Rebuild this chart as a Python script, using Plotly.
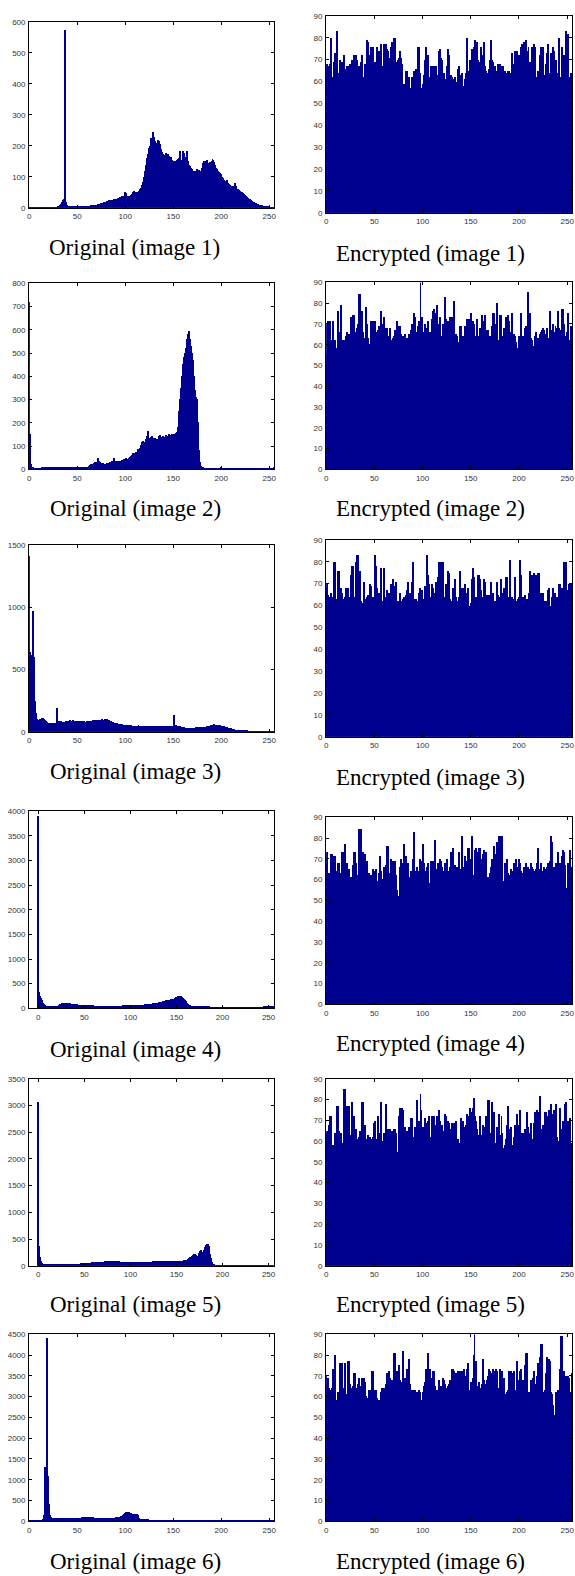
import plotly.graph_objects as go

W, H = 575, 1576
bins = list(range(256))

orig1 = [
    2,2,2,2,2,2,2,2,2,2,2,2,2,2,2,2,
    2,2,2,2,2,2,2,2,2,2,2,2,2,3,4,6,
    8,12,18,25,30,575,45,18,10,6,5,5,4,4,5,6,
    7,5,4,3,4,3,4,5,5,4,5,6,6,6,7,7,
    8,8,9,9,10,10,11,11,12,12,14,15,15,16,18,20,
    18,22,20,24,25,23,26,27,28,30,28,25,30,33,32,35,
    36,38,40,37,52,48,40,38,36,40,42,45,50,55,52,48,
    50,52,55,58,60,65,75,85,100,120,140,160,175,195,200,225,
    210,245,230,215,200,210,220,215,205,190,180,175,170,172,170,178,
    172,175,168,160,165,155,150,148,152,150,155,158,160,185,150,155,
    185,178,165,160,185,170,150,140,135,130,125,120,118,115,120,125,
    118,122,115,120,130,145,150,140,150,155,145,140,148,135,150,158,
    155,148,140,130,125,120,115,112,110,100,95,90,88,85,90,80,
    78,75,72,70,72,68,80,72,65,60,62,58,55,52,50,48,
    45,42,40,35,32,30,28,25,22,20,18,16,15,14,12,10,
    10,9,8,8,7,6,6,5,5,4,4,3,3,3,2,2,
]
orig2 = [
    720,150,20,8,5,4,3,3,3,3,3,3,3,3,5,5,
    5,5,5,5,5,5,5,5,6,6,6,6,6,6,7,5,
    6,7,8,8,7,6,5,5,6,6,7,7,7,8,8,8,
    8,8,9,9,10,8,9,10,9,8,9,10,10,10,12,15,
    18,20,18,22,25,28,25,30,45,35,28,26,24,25,22,20,
    22,24,25,26,30,28,32,30,45,35,32,34,36,35,32,30,
    36,40,38,42,42,45,40,44,46,52,55,60,68,65,70,72,
    75,85,80,78,88,105,115,120,118,115,130,140,165,135,130,138,
    140,132,128,135,130,125,128,140,145,138,130,142,140,135,138,145,
    140,138,150,148,145,150,148,152,150,155,160,180,250,300,350,400,
    450,480,500,520,560,580,590,595,560,530,500,470,400,340,310,300,
    200,80,30,12,6,5,4,4,3,3,3,3,3,3,3,3,
    3,3,3,3,3,3,3,3,5,3,3,3,3,4,3,3,
    3,3,3,3,3,3,3,3,3,3,3,3,2,2,2,2,
    2,2,2,2,2,2,2,2,2,2,2,2,2,2,2,2,
    2,2,2,2,2,2,2,2,2,2,2,2,2,2,2,10,
]
orig3 = [
    1410,640,620,620,970,600,250,150,100,90,95,100,105,110,115,110,
    100,95,85,80,75,75,72,70,70,68,72,75,70,190,85,90,
    88,85,80,78,80,82,85,85,88,85,90,92,88,90,95,90,
    88,86,85,88,90,86,84,82,85,84,82,80,85,84,82,85,
    86,88,90,92,95,96,98,95,92,94,96,98,100,98,95,100,
    105,102,95,92,90,85,80,78,75,72,70,68,70,65,66,64,
    62,60,58,56,55,54,52,53,52,50,52,50,48,50,49,48,
    50,48,52,50,48,49,47,48,50,46,45,46,47,45,46,48,
    46,45,44,46,45,44,43,45,44,46,45,44,46,45,44,42,
    44,46,45,47,48,46,45,135,55,52,50,48,45,44,42,40,
    38,36,35,34,32,30,30,32,31,30,32,33,34,35,36,38,
    36,38,40,38,37,36,38,40,42,44,46,48,50,52,55,56,
    58,60,58,56,55,56,54,52,50,48,46,44,42,40,38,35,
    32,30,28,25,22,20,18,16,15,14,13,12,12,11,10,10,
    9,9,8,8,7,7,6,6,6,5,5,5,5,4,4,4,
    4,4,4,3,3,3,3,3,3,3,3,3,3,3,3,3,
]
orig4 = [
    3900,330,250,200,150,100,80,60,45,35,30,28,25,25,24,25,
    26,28,30,35,40,45,55,65,75,85,90,95,100,100,98,100,
    100,98,95,92,88,85,80,78,75,72,70,68,65,62,60,58,
    56,55,54,55,53,52,50,52,51,50,48,50,49,48,47,48,
    46,47,45,46,48,47,45,46,45,44,46,45,44,45,46,45,
    44,45,46,45,44,46,47,48,46,45,47,48,49,50,50,52,
    50,51,52,53,54,55,56,57,58,58,59,60,60,61,61,62,
    62,64,66,68,70,72,74,76,78,80,82,85,88,90,92,95,
    98,102,106,110,115,120,125,130,135,140,145,150,155,160,165,170,
    175,180,185,190,195,205,215,225,235,242,245,238,225,205,180,155,
    130,110,90,75,62,52,45,40,36,33,31,30,29,28,27,26,
    23,22,22,21,20,20,20,19,18,18,17,17,16,16,15,15,
    15,15,14,14,14,13,13,13,12,12,12,12,12,12,11,11,
    11,11,11,10,10,10,10,10,10,10,10,10,11,11,11,11,
    11,11,12,12,12,12,13,13,13,13,14,14,14,15,15,15,
    15,16,16,17,17,18,18,19,20,20,22,24,26,28,30,32,
]
orig5 = [
    3070,370,170,100,60,40,30,25,22,20,20,22,20,22,20,22,
    24,22,25,24,26,25,28,25,28,30,28,30,30,32,30,32,
    30,32,34,32,35,45,38,36,38,40,42,40,44,45,46,48,
    48,50,52,50,52,55,58,60,62,64,65,66,68,70,70,72,
    74,75,76,78,78,80,80,82,82,84,85,86,88,90,92,92,
    94,95,94,92,90,88,86,85,84,82,80,80,78,78,76,76,
    75,74,74,72,72,70,70,72,70,72,72,74,74,75,75,76,
    76,78,78,76,78,80,80,78,80,80,82,80,82,84,82,84,
    84,85,84,86,86,85,86,88,88,86,88,90,88,90,90,92,
    92,90,92,94,95,92,94,95,96,95,96,95,98,100,102,105,
    110,115,120,130,145,160,175,190,200,215,220,200,185,180,200,250,
    280,300,260,250,300,350,400,420,410,380,300,230,150,80,40,20,
    10,6,4,4,3,3,3,3,3,3,3,3,3,3,3,3,
    3,3,3,3,3,3,3,3,3,3,3,3,3,3,3,3,
    3,3,3,3,3,3,3,3,3,3,3,3,3,3,3,3,
    3,3,3,3,3,3,3,3,3,3,3,3,3,3,3,3,
]
orig6 = [
    15,15,15,15,15,15,15,15,15,15,15,15,15,18,20,30,
    150,1300,1300,4400,1070,400,150,100,80,75,72,70,70,70,72,70,
    70,70,72,70,70,72,70,72,70,70,72,72,70,72,74,72,
    74,75,74,76,78,80,82,85,90,95,100,98,95,90,92,95,
    92,90,88,85,82,80,78,75,72,70,70,68,66,65,64,62,
    60,62,60,62,64,66,68,70,72,75,80,85,90,95,100,105,
    110,130,150,170,190,205,215,220,210,195,180,172,168,165,162,160,
    158,150,120,80,50,42,40,40,38,38,36,35,30,20,15,12,
    10,10,10,10,10,10,10,10,10,10,10,10,10,10,10,10,
    10,10,10,10,10,10,10,10,10,10,10,10,10,10,10,10,
    10,10,10,10,10,10,10,10,10,10,10,10,10,10,10,10,
    10,10,10,10,10,10,10,10,10,10,10,10,10,10,10,10,
    10,10,10,10,10,10,10,10,10,10,10,10,10,10,10,10,
    10,10,10,10,10,10,10,10,10,10,10,10,10,10,10,10,
    10,10,10,10,10,10,10,10,10,10,10,10,10,10,10,10,
    10,10,10,10,10,10,10,10,10,10,10,10,10,10,10,10,
]

enc1 = [
    66,68,56,67,68,80,62,56,69,73,64,83,54,64,66,70,
    68,69,64,72,58,66,67,67,67,68,57,70,68,72,64,72,
    70,63,67,55,69,72,62,61,68,65,69,79,78,66,72,76,
    64,76,68,69,60,76,74,66,74,77,61,67,77,66,77,75,
    74,71,65,76,78,70,71,80,80,68,69,70,71,74,71,68,
    56,59,55,65,65,52,62,56,57,62,61,65,63,66,64,76,
    76,63,64,47,57,59,63,70,76,63,72,62,60,67,67,67,
    67,67,67,63,62,74,75,71,70,62,64,60,61,67,63,75,
    72,63,63,62,60,61,62,60,54,66,67,62,63,64,49,58,
    61,64,80,65,64,70,68,75,64,76,79,79,66,78,70,69,
    65,76,72,69,78,67,65,60,64,66,70,79,70,69,66,67,
    60,65,68,68,68,66,66,67,67,60,65,57,64,65,65,58,
    64,73,68,64,74,62,74,68,72,70,76,77,71,78,76,79,
    74,67,76,62,69,63,76,73,77,76,62,56,65,63,72,76,
    66,76,63,61,68,73,77,62,64,73,70,76,74,64,61,70,
    64,60,80,59,62,76,65,72,65,83,66,82,62,60,64,59,
]
enc2 = [
    70,55,71,58,71,51,62,71,62,62,56,58,76,56,66,62,
    79,62,61,62,56,64,66,64,65,60,73,73,74,74,66,63,
    68,70,84,84,62,76,66,63,62,78,78,70,63,60,56,71,
    71,58,71,71,59,66,67,69,50,76,70,69,73,68,60,68,
    64,64,68,62,61,63,64,62,67,62,71,69,62,69,65,58,
    64,60,65,63,63,60,65,59,67,70,60,75,73,66,58,69,
    71,64,90,54,73,66,65,70,64,68,71,63,66,64,72,76,
    77,64,75,79,64,70,73,58,64,70,66,83,72,60,69,71,
    64,73,73,70,73,81,64,65,64,61,60,69,69,62,64,60,
    69,64,72,68,72,69,75,69,71,69,70,64,62,72,56,64,
    68,64,74,63,71,74,65,67,67,63,64,55,69,75,75,62,
    70,80,54,62,74,74,57,64,59,68,60,73,65,74,71,62,
    66,75,59,65,64,61,53,58,64,58,75,64,64,62,68,69,
    64,85,85,69,75,63,62,57,59,64,66,62,63,58,65,66,
    67,68,67,61,65,68,56,63,76,67,60,70,66,60,69,68,
    57,76,68,64,67,77,77,70,58,64,66,75,57,62,69,66,
]
enc3 = [
    68,70,65,64,64,66,62,64,80,80,63,63,76,76,62,64,
    68,66,60,63,64,68,67,68,64,62,74,78,78,64,57,80,
    83,83,63,76,62,60,61,71,62,63,60,64,65,60,70,69,
    64,50,64,83,78,68,63,66,63,77,56,62,77,63,64,67,
    58,66,62,70,64,72,55,69,67,71,60,62,58,66,61,62,
    63,64,63,65,67,71,60,66,59,71,80,63,60,63,57,62,
    66,68,63,60,67,56,63,69,66,83,74,70,64,60,70,68,
    61,66,71,69,73,80,80,49,80,80,62,64,70,59,67,76,
    75,63,44,62,68,62,72,64,62,59,64,76,62,68,68,63,
    70,66,58,68,60,60,61,72,77,69,73,60,64,63,74,74,
    72,67,60,64,72,71,59,65,64,65,47,71,63,66,60,62,
    60,71,65,62,64,72,69,66,65,68,62,73,73,64,62,81,
    60,64,63,62,73,60,62,63,64,81,74,56,64,58,65,62,
    63,61,60,66,76,62,74,73,75,60,74,68,75,75,66,60,
    66,66,60,62,61,62,67,68,60,58,64,68,66,60,66,55,
    64,57,70,70,62,68,66,80,60,80,67,66,70,68,70,66,
]
enc4 = [
    68,73,57,63,63,72,72,71,67,71,64,63,68,68,68,57,
    63,73,73,58,77,66,68,60,65,61,61,50,67,73,73,68,
    62,60,84,84,84,49,73,72,72,60,60,69,57,63,59,62,
    60,65,64,62,65,56,59,63,71,64,59,60,66,62,67,76,
    76,63,58,70,64,69,53,69,69,62,55,52,52,66,70,68,
    66,77,65,71,66,68,61,60,64,62,70,83,63,64,66,60,
    64,70,65,69,64,77,68,64,64,66,68,58,56,69,68,69,
    62,79,59,65,68,59,70,69,66,44,64,68,66,70,69,62,
    64,66,73,70,75,63,67,62,66,58,73,62,65,81,66,60,
    71,69,64,75,75,70,62,81,61,62,74,62,75,73,62,75,
    75,70,53,72,74,64,73,61,61,61,63,66,70,69,76,72,
    63,78,63,81,81,62,75,81,59,57,68,62,70,63,56,62,
    65,58,64,68,59,70,66,62,70,68,64,63,60,66,66,68,
    62,66,61,65,64,68,66,65,64,58,65,68,75,65,58,68,
    64,54,66,65,62,66,68,52,69,81,78,66,65,66,52,68,
    66,73,52,68,66,71,74,73,67,56,54,68,65,74,66,62,
]
enc5 = [
    64,65,60,68,72,72,50,58,54,64,62,77,77,65,64,59,
    64,50,59,85,85,71,77,65,77,63,62,79,72,72,57,66,
    61,56,62,65,56,79,79,63,68,61,55,61,63,61,62,58,
    61,62,69,70,58,61,72,51,64,79,60,59,64,64,78,66,
    66,65,66,65,65,63,46,66,66,64,55,54,72,76,60,76,
    75,60,67,63,65,63,67,59,71,71,62,61,67,67,80,63,
    70,70,83,75,64,67,65,71,69,67,70,72,62,60,72,70,
    72,68,61,72,64,75,70,58,68,64,65,73,72,56,64,70,
    69,66,63,69,63,69,64,70,51,61,59,59,71,64,70,67,
    65,68,73,72,60,76,61,74,76,81,77,72,70,66,61,63,
    72,56,63,68,67,66,72,65,80,80,57,64,79,72,74,58,
    59,67,64,73,63,59,72,64,57,57,58,61,68,77,61,66,
    67,58,56,62,68,65,73,68,61,75,60,64,64,55,66,62,
    74,65,67,64,57,69,61,60,69,74,65,75,74,68,82,63,
    66,68,62,74,74,61,72,75,57,78,62,73,75,62,62,78,
    62,60,60,76,63,66,70,56,78,79,56,70,65,71,56,59,
]
enc6 = [
    70,65,69,64,56,63,64,73,66,80,58,50,62,58,67,76,
    76,76,60,64,76,58,61,77,77,66,58,64,65,71,71,64,
    60,66,69,62,65,69,68,69,67,60,49,58,59,63,63,48,
    72,72,63,61,63,59,56,58,57,62,64,64,62,64,66,71,
    70,72,69,67,68,63,65,81,81,72,65,72,75,68,64,67,
    82,65,69,61,73,67,78,66,63,60,63,63,63,62,62,55,
    63,62,58,58,48,62,65,67,73,73,81,62,73,69,64,72,
    72,65,63,63,62,68,60,65,61,69,68,66,64,61,65,59,
    66,68,57,73,73,72,63,71,64,72,68,72,72,66,72,73,
    63,70,73,76,49,63,67,56,69,80,90,70,77,62,65,67,
    55,64,66,78,68,66,59,68,70,73,72,71,67,73,72,66,
    73,72,64,62,73,70,72,72,60,69,58,61,62,63,72,60,
    72,71,62,72,60,63,77,66,68,72,73,62,68,61,75,81,
    81,61,61,62,60,68,64,69,72,61,66,70,76,69,79,85,
    85,60,62,63,71,79,78,78,77,62,61,56,51,50,62,62,
    62,63,60,73,89,89,71,72,63,70,60,70,69,61,62,71,
]

orig_series = [orig1, orig2, orig3, orig4, orig5, orig6]
enc_series = [enc1, enc2, enc3, enc4, enc5, enc6]
orig_ymax = [600, 800, 1500, 4000, 3500, 4500]
orig_dtick = [100, 100, 500, 500, 500, 500]
orig_xrange = [[0, 255], [0, 255], [0, 255], [-10, 256], [-10, 256], [0, 255]]
enc_ymax = 90
enc_dtick = 10
orig_titles = ["Original (image %d)" % i for i in range(1, 7)]
enc_titles = ["Encrypted (image %d)" % i for i in range(1, 7)]

# pixel boxes (x0, x1, y0, y1) and label centres
left_boxes = [(27.3, 274, 18, 205), (27.3, 274, 281, 468), (27.3, 274, 544, 732),
              (27.3, 274, 812, 1010), (27.3, 274, 1081, 1269), (27.3, 274, 1338, 1526)]
right_boxes = [(326.4, 574, 12, 210), (326.4, 574, 280, 468), (326.4, 574, 539, 737),
               (326.4, 574, 818, 1006), (326.4, 574, 1081, 1269), (326.4, 574, 1338, 1526)]
left_label_pos = [(133, 245), (134, 507), (134, 772), (134, 1052), (134, 1308), (134, 1566)]
right_label_pos = [(431, 251), (431, 507), (431, 778), (431, 1045), (431, 1308), (431, 1566)]

BAR = "#00008F"
tickfont = dict(family="Liberation Sans, Arial, sans-serif", size=8, color="#333333")

fig = go.Figure()
layout = dict(width=W, height=H, margin=dict(l=0, r=0, t=0, b=0), autosize=False,
              paper_bgcolor="white", plot_bgcolor="white", showlegend=False,
              bargap=0, font=dict(family="Liberation Sans, Arial"))
annotations = []

panels = []
for i in range(6):
    panels.append((orig_series[i], left_boxes[i], orig_xrange[i], orig_ymax[i], orig_dtick[i],
                   orig_titles[i], left_label_pos[i]))
    panels.append((enc_series[i], right_boxes[i], [0, 255], enc_ymax, enc_dtick,
                   enc_titles[i], right_label_pos[i]))

for k, (vals, box, xr, ymax, dt, title, lp) in enumerate(panels):
    n = k + 1
    xa = "x" if n == 1 else "x%d" % n
    ya = "y" if n == 1 else "y%d" % n
    fig.add_trace(go.Bar(x=bins, y=vals, width=1.0, xaxis=xa, yaxis=ya,
                         marker=dict(color=BAR, line=dict(width=0)), hoverinfo="skip"))
    x0, x1, y0, y1 = box
    axcommon = dict(showline=True, linecolor="black", linewidth=1, mirror="ticks",
                    ticks="inside", ticklen=3, tickcolor="black", showgrid=False,
                    zeroline=False, tickfont=tickfont)
    layout["xaxis" if n == 1 else "xaxis%d" % n] = dict(
        domain=[x0 / W, x1 / W], anchor=ya, range=xr, tickmode="linear", tick0=0, dtick=50,
        ticklabelstandoff=1, **axcommon)
    layout["yaxis" if n == 1 else "yaxis%d" % n] = dict(
        domain=[1 - y1 / H, 1 - y0 / H], anchor=xa, range=[0, ymax], tickmode="linear",
        tick0=0, dtick=dt, ticklabelstandoff=1, **axcommon)
    annotations.append(dict(text=title, x=lp[0] / W, y=1 - lp[1] / H, xref="paper", yref="paper",
                            xanchor="center", yanchor="middle", showarrow=False,
                            font=dict(family="Liberation Serif, Times New Roman, serif",
                                      size=23, color="black")))

layout["annotations"] = annotations
fig.update_layout(**layout)
fig.write_html("out.html")
